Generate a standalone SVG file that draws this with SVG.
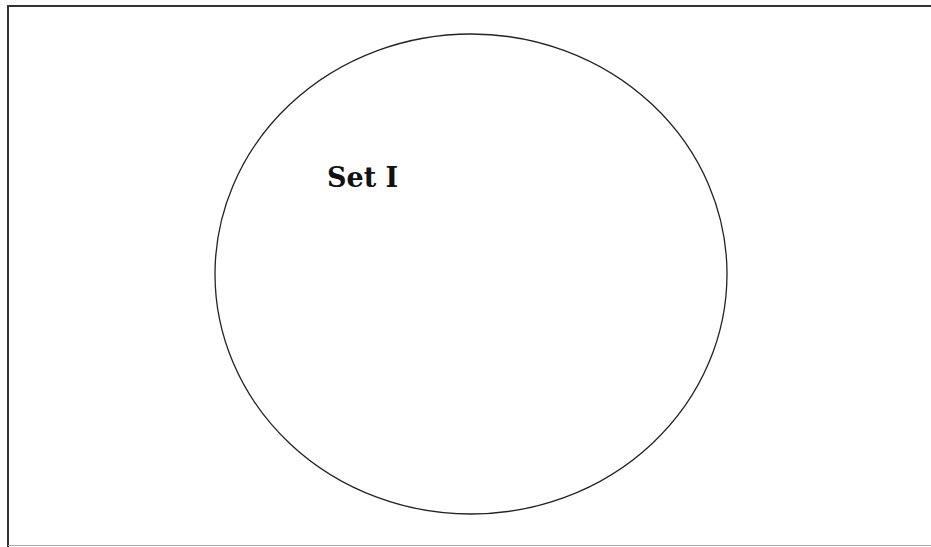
<svg xmlns="http://www.w3.org/2000/svg" width="931" height="547" viewBox="0 0 931 547">
<style>
.frame{stroke:#333;fill:none}
.set{fill:none;stroke:#222;stroke-width:1.3}
.lbl{font-family:"DejaVu Serif","Liberation Serif",serif;font-weight:bold;font-size:27px;fill:#111}
</style>
<rect width="931" height="547" fill="#fff"/>
<g id="frame">
<line class="frame" x1="7" y1="6" x2="931" y2="6" stroke-width="2"/>
<line class="frame" x1="8" y1="5" x2="8" y2="547" stroke-width="2"/>
<line x1="8" y1="545.5" x2="931" y2="545.5" stroke="#aaa" stroke-width="1"/>
</g>
<g id="setI">
<ellipse class="set" cx="471" cy="274" rx="256" ry="240"/>
<text class="lbl" x="327" y="187">Set I</text>
</g>
</svg>
